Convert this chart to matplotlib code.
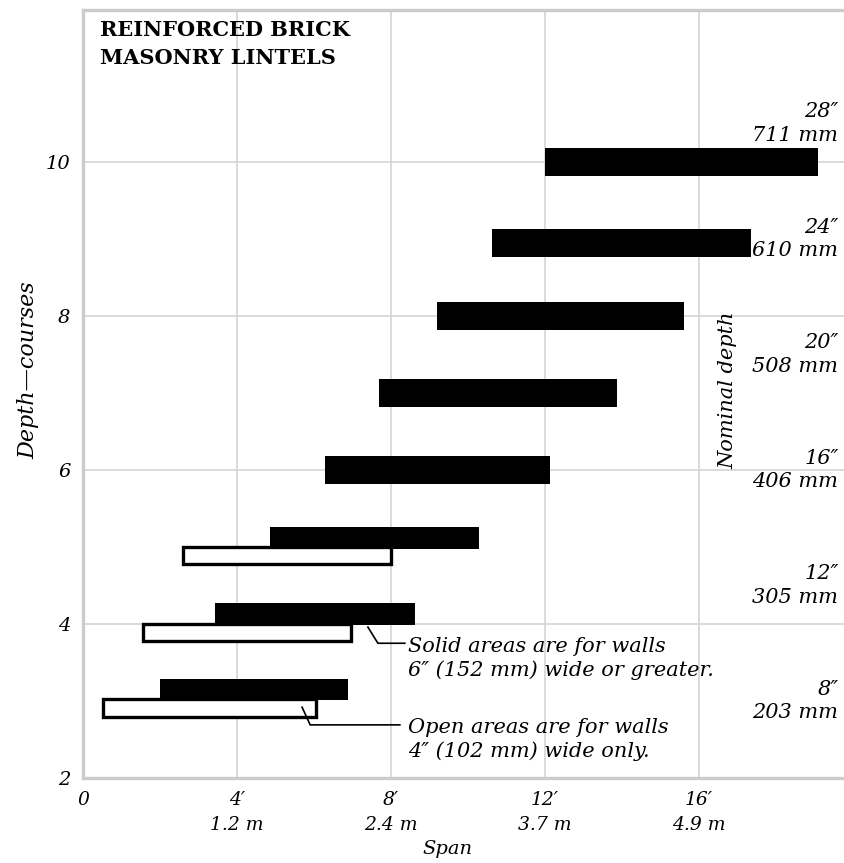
import matplotlib
matplotlib.use('Agg')
import matplotlib.pyplot as plt

# Solid bars: walls 6" (152 mm) wide or greater
solid_depth = [10.0, 8.95, 8.0, 7.0, 6.0, 5.12, 4.13, 3.15]
solid_start = [12.0, 10.62, 9.19, 7.69, 6.29, 4.86, 3.43, 2.0]
solid_end = [19.1, 17.35, 15.61, 13.87, 12.13, 10.29, 8.62, 6.88]
solid_height = [0.36, 0.36, 0.36, 0.36, 0.36, 0.28, 0.28, 0.28]

# Open bars: walls 4" (102 mm) wide only
open_depth = [4.89, 3.89, 2.91]
open_start = [2.61, 1.57, 0.51]
open_end = [8.01, 6.95, 6.04]

x_ticks = [0, 4, 8, 12, 16]
x_labels = ['0', '4\u2032\n1.2 m', '8\u2032\n2.4 m', '12\u2032\n3.7 m', '16\u2032\n4.9 m']
y_ticks = [2, 4, 6, 8, 10]

depth_courses = [10.5, 9.0, 7.5, 6.0, 4.5, 3.0]
depth_labels = ['28\u2033\n711 mm', '24\u2033\n610 mm', '20\u2033\n508 mm',
                '16\u2033\n406 mm', '12\u2033\n305 mm', '8\u2033\n203 mm']

# leader lines for the two notes (span, depth)
solid_leader_x = [7.40, 7.66, 8.36]
solid_leader_y = [3.96, 3.75, 3.75]
open_leader_x = [5.69, 5.90, 8.23]
open_leader_y = [2.92, 2.69, 2.69]

plt.rcParams['font.family'] = ['DejaVu Serif', 'DejaVu Sans']
plt.rcParams['font.style'] = 'italic'

fig = plt.figure(figsize=(8.45, 8.63), dpi=100)
ax = fig.add_axes([83 / 845, 1 - 778 / 863, 1 - 83 / 845, (778 - 10) / 863])

ax.set_xlim(0, (845 - 83) / 38.5)
ax.set_ylim(2, 2 + (778 - 10) / 77)

# bars
widths = [e - s for s, e in zip(solid_start, solid_end)]
ax.barh(solid_depth, widths, left=solid_start, height=solid_height,
        color='black', zorder=3)
open_widths = [e - s for s, e in zip(open_start, open_end)]
ax.barh(open_depth, open_widths, left=open_start, height=0.23,
        facecolor='white', edgecolor='black', linewidth=2.4, zorder=4)

# grid and frame
ax.set_xticks(x_ticks)
ax.set_xticklabels(x_labels, fontsize=13.5, linespacing=1.55)
ax.set_yticks(y_ticks)
ax.set_yticklabels([str(v) for v in y_ticks], fontsize=14)
ax.tick_params(length=0, pad=9)
ax.grid(True, color='#d4d4d4', linewidth=1.2)
ax.set_axisbelow(True)
for side in ['left', 'top', 'bottom']:
    ax.spines[side].set_color('#cccccc')
    ax.spines[side].set_linewidth(2.4)
ax.spines['right'].set_visible(False)

# axis titles
fig.text(447 / 845, 1 - 849 / 863, 'Span', fontsize=14, ha='center', va='center')
fig.text(28 / 845, 1 - 370 / 863, 'Depth\u2014courses', rotation=90,
         fontsize=16, ha='center', va='center')

# title
ax.text(100 / 845, 1 - 20 / 863, 'REINFORCED BRICK\nMASONRY LINTELS',
        transform=fig.transFigure, fontsize=15, fontweight='bold',
        fontstyle='normal', ha='left', va='top', linespacing=1.5)

# nominal depth labels
for d, lab in zip(depth_courses, depth_labels):
    ax.text(19.62, d, lab, fontsize=15, ha='right', va='center',
            linespacing=1.3, zorder=5)
ax.text(16.75, 7.04, 'Nominal depth', rotation=90, fontsize=15,
        ha='center', va='center')

# notes
ax.plot(solid_leader_x, solid_leader_y, color='black', linewidth=1.2, zorder=5)
ax.plot(open_leader_x, open_leader_y, color='black', linewidth=1.2, zorder=5)
ax.text(8.44, 3.83, 'Solid areas are for walls\n6\u2033 (152 mm) wide or greater.',
        fontsize=15, ha='left', va='top', linespacing=1.3, zorder=5)
ax.text(8.44, 2.78, 'Open areas are for walls\n4\u2033 (102 mm) wide only.',
        fontsize=15, ha='left', va='top', linespacing=1.3, zorder=5)

fig.savefig('out.png', dpi=100)
